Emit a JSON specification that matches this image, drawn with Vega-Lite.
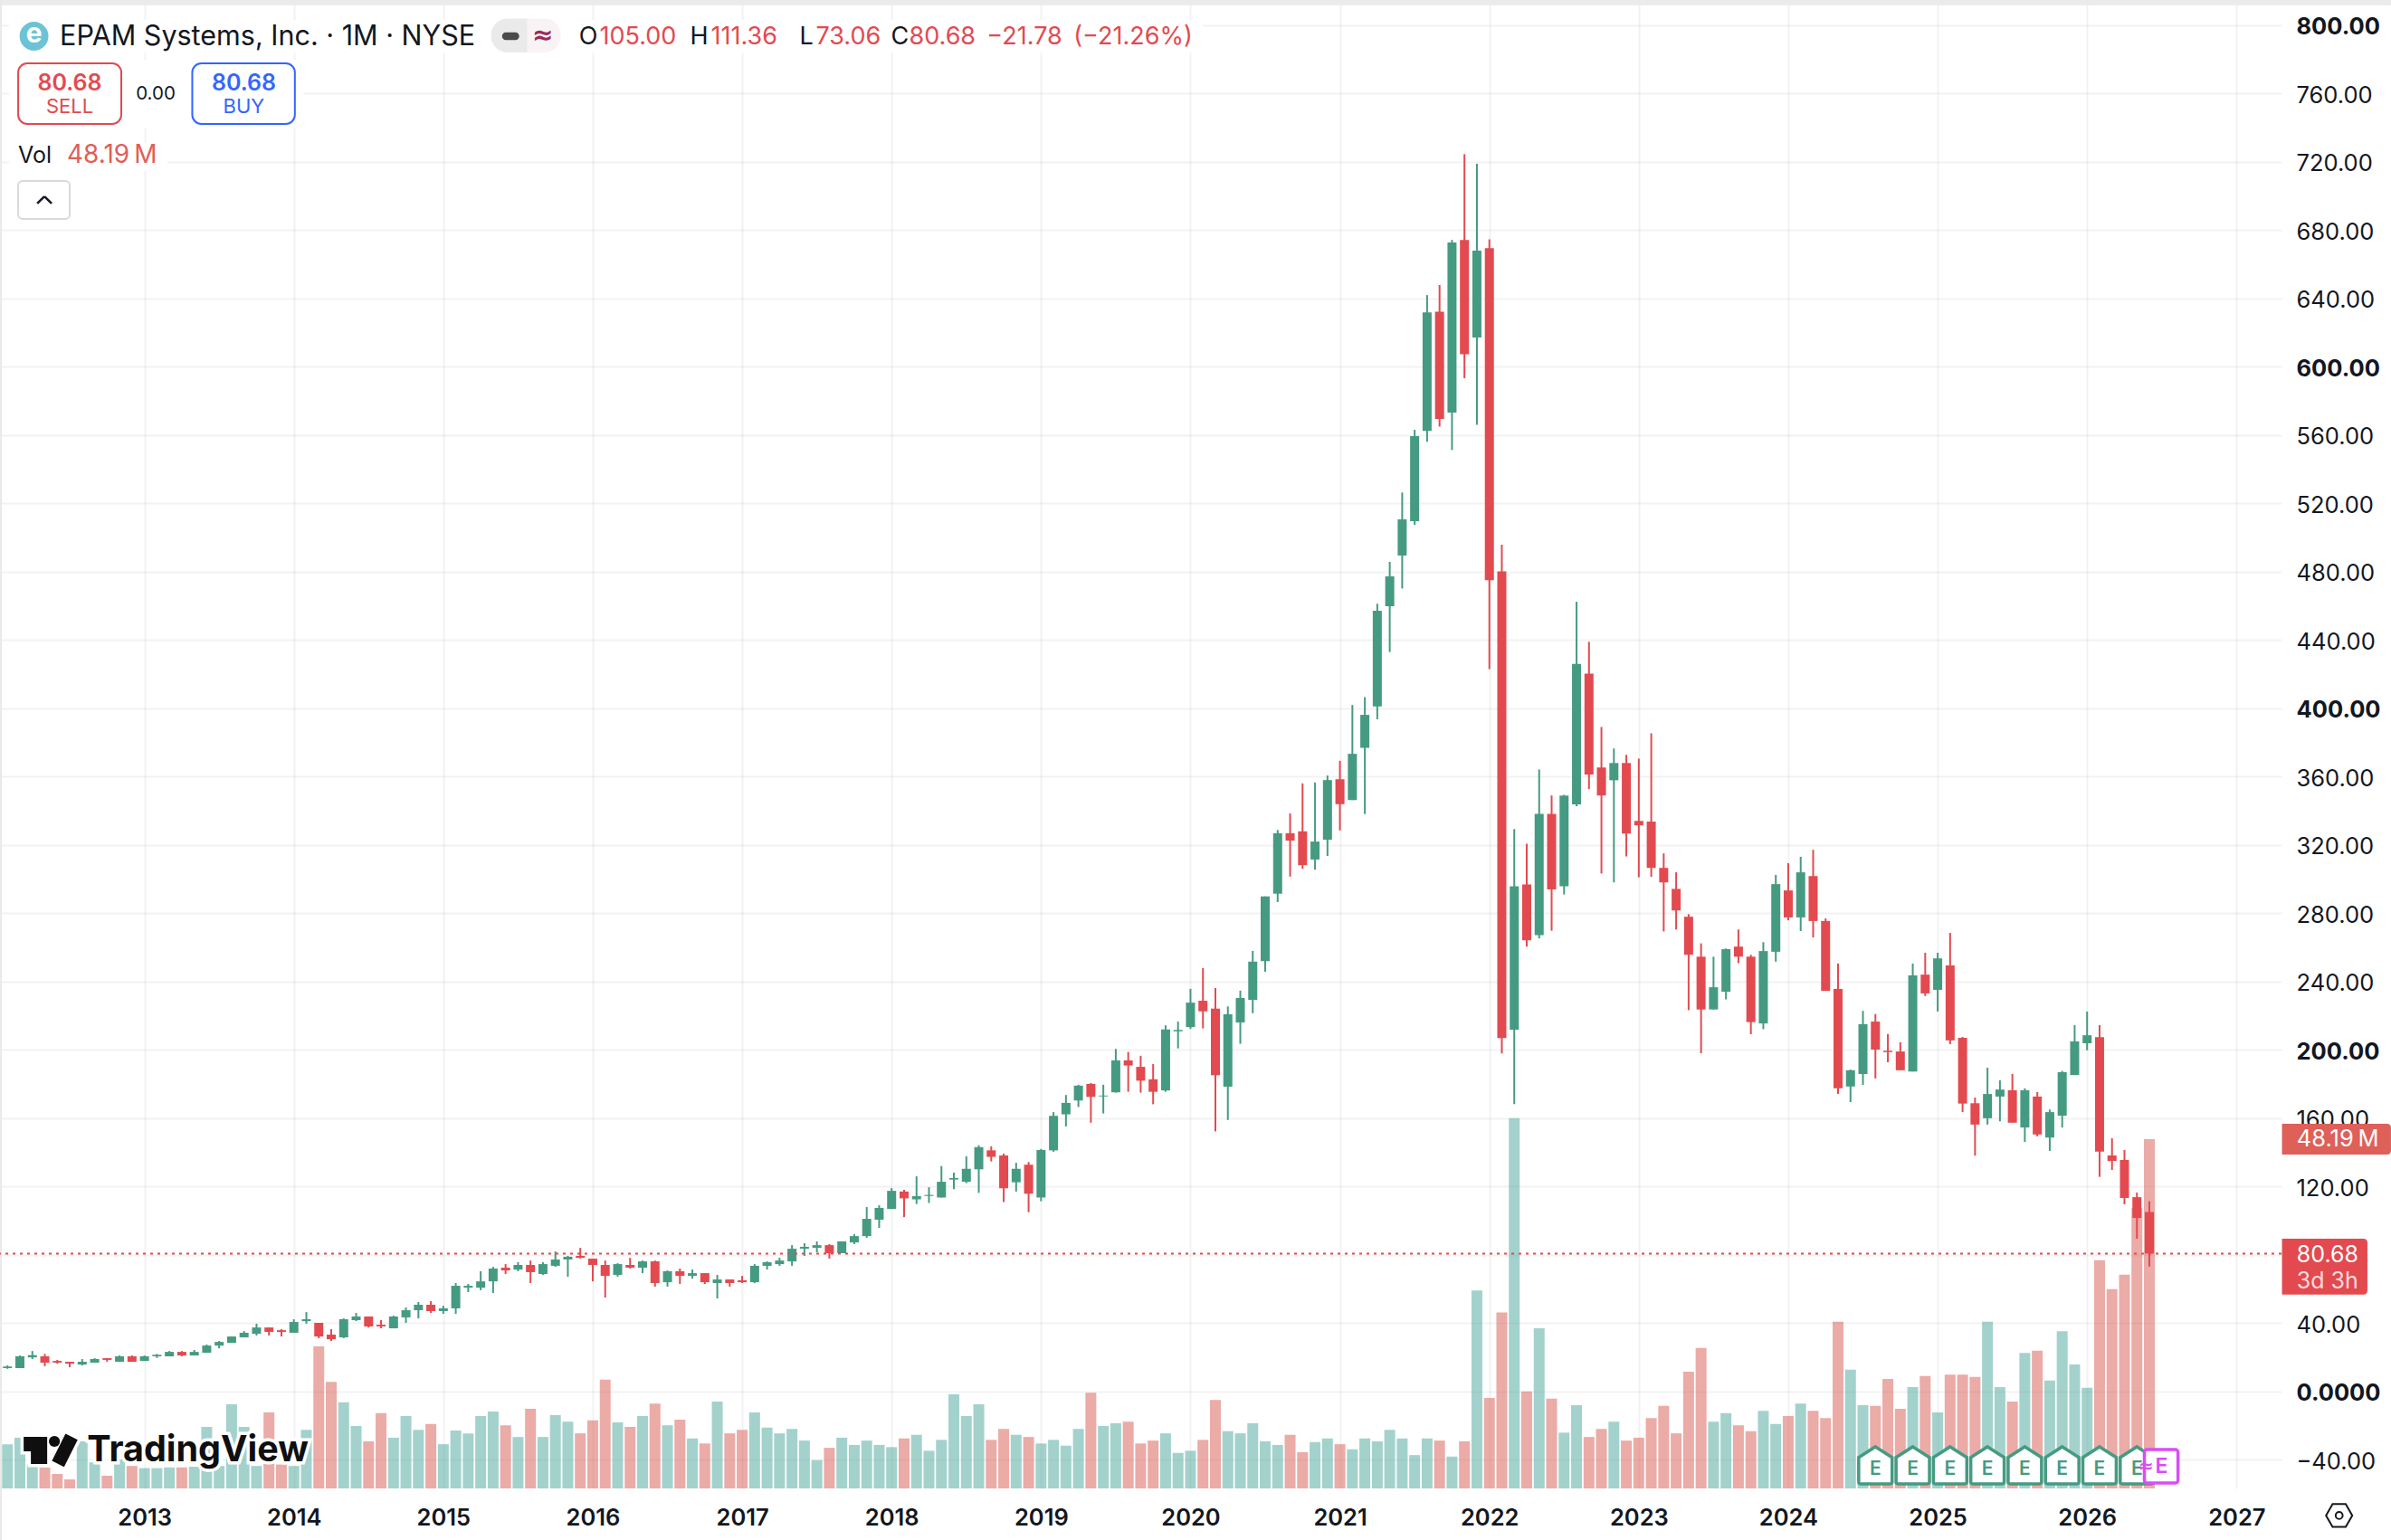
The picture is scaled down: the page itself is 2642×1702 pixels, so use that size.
{
"$schema":"https://vega.github.io/schema/vega-lite/v6.json",
"width":2521,"height":1645,
"autosize":{"type":"none"},
"padding":{"left":0,"top":0,"right":121,"bottom":57},
"background":"#ffffff",
"config":{"view":{"stroke":null},"axis":{"title":null}},
"datasets":{
"bars":[
{"n":1,"o":13.6,"h":15.2,"l":13.2,"c":14.6,"v":6.1},
{"n":2,"o":13.6,"h":21,"l":13.6,"c":20.5,"v":7},
{"n":3,"o":19.9,"h":23.6,"l":18.9,"c":21.2,"v":3.3},
{"n":4,"o":20.5,"h":21.9,"l":14.7,"c":16.8,"v":2.9},
{"n":5,"o":17.8,"h":18.4,"l":16.2,"c":16.8,"v":2},
{"n":6,"o":17.3,"h":17.3,"l":14.1,"c":16.2,"v":1.25},
{"n":7,"o":15.7,"h":18.9,"l":15.2,"c":17.3,"v":6.5},
{"n":8,"o":16.8,"h":19.4,"l":16.8,"c":18.9,"v":3.6},
{"n":9,"o":19.4,"h":19.4,"l":17.3,"c":18.4,"v":1.75},
{"n":10,"o":17.3,"h":21,"l":17.3,"c":20.5,"v":4},
{"n":11,"o":20.5,"h":21,"l":17.3,"c":17.3,"v":3.1},
{"n":12,"o":17.8,"h":21,"l":17.8,"c":20.5,"v":2.8},
{"n":13,"o":20.5,"h":21.9,"l":19.6,"c":21.4,"v":2.8},
{"n":14,"o":20.5,"h":23.6,"l":20.5,"c":23.1,"v":2.9},
{"n":15,"o":23.1,"h":23.6,"l":20.5,"c":21,"v":2.9},
{"n":16,"o":21,"h":24.2,"l":21,"c":23.1,"v":3},
{"n":17,"o":22.6,"h":27.4,"l":22.6,"c":26.8,"v":8.5},
{"n":18,"o":26.8,"h":29.5,"l":25.2,"c":28.9,"v":3.1},
{"n":19,"o":28.4,"h":32.1,"l":28.4,"c":32.1,"v":11.6},
{"n":20,"o":31.6,"h":35.3,"l":31.6,"c":34.3,"v":8.5},
{"n":21,"o":33.7,"h":39.6,"l":32.7,"c":37.4,"v":3.1},
{"n":22,"o":37.4,"h":37.4,"l":32.7,"c":34.8,"v":10.5},
{"n":23,"o":35.8,"h":36.4,"l":32.1,"c":34.8,"v":3.3},
{"n":24,"o":34.3,"h":42.2,"l":34.3,"c":40.6,"v":3.1},
{"n":25,"o":41.1,"h":46.4,"l":39.6,"c":42.2,"v":8.1},
{"n":26,"o":40.1,"h":40.1,"l":31.1,"c":32.1,"v":19.6},
{"n":27,"o":33.2,"h":36.4,"l":29.5,"c":30.5,"v":14.7},
{"n":28,"o":31.6,"h":42.7,"l":31.1,"c":42.2,"v":11.9},
{"n":29,"o":41.7,"h":45.9,"l":41.1,"c":43.8,"v":8.6},
{"n":30,"o":43.8,"h":43.8,"l":37.4,"c":38,"v":6.5},
{"n":31,"o":39,"h":41.7,"l":36.9,"c":38,"v":10.4},
{"n":32,"o":36.9,"h":44.3,"l":36.9,"c":43.8,"v":7},
{"n":33,"o":43.3,"h":49.1,"l":40.1,"c":47.5,"v":10},
{"n":34,"o":47.5,"h":52.3,"l":42.7,"c":50.7,"v":8.1},
{"n":35,"o":50.7,"h":52.8,"l":45.9,"c":47,"v":8.9},
{"n":36,"o":47,"h":50.1,"l":45.4,"c":48.6,"v":6.1},
{"n":37,"o":48.6,"h":63.4,"l":45.4,"c":61.8,"v":8},
{"n":38,"o":60.7,"h":62.9,"l":58.1,"c":61.8,"v":7.6},
{"n":39,"o":60.7,"h":70.3,"l":59.2,"c":64.4,"v":10},
{"n":40,"o":64.4,"h":72.9,"l":57.6,"c":71.9,"v":10.6},
{"n":41,"o":72.4,"h":74.5,"l":68.7,"c":70.8,"v":8.7},
{"n":42,"o":71.3,"h":75.6,"l":70.3,"c":74,"v":7.1},
{"n":43,"o":74,"h":76.6,"l":63.4,"c":69.8,"v":11},
{"n":44,"o":68.7,"h":75.6,"l":68.2,"c":74.5,"v":7.1},
{"n":45,"o":73.5,"h":81.9,"l":72.9,"c":77.2,"v":10.1},
{"n":46,"o":77.2,"h":79.3,"l":67.1,"c":78.8,"v":9.2},
{"n":47,"o":79.3,"h":84,"l":77.7,"c":78.2,"v":7.6},
{"n":48,"o":77.7,"h":77.7,"l":64.4,"c":74,"v":9.4},
{"n":49,"o":74,"h":76.6,"l":54.9,"c":67.6,"v":15},
{"n":50,"o":68.2,"h":75,"l":67.1,"c":74.5,"v":9.1},
{"n":51,"o":74,"h":78.2,"l":71.9,"c":72.4,"v":8.5},
{"n":52,"o":72.4,"h":76.6,"l":69.2,"c":76.1,"v":10},
{"n":53,"o":76.1,"h":76.6,"l":61.3,"c":63.4,"v":11.7},
{"n":54,"o":63.9,"h":70.8,"l":61.3,"c":70.3,"v":8.7},
{"n":55,"o":70.3,"h":71.9,"l":62.9,"c":67.6,"v":9.5},
{"n":56,"o":67.6,"h":71.3,"l":66,"c":69.2,"v":6.9},
{"n":57,"o":69.2,"h":69.2,"l":62.9,"c":63.9,"v":6.2},
{"n":58,"o":63.4,"h":68.2,"l":54.4,"c":65.5,"v":12},
{"n":59,"o":65.5,"h":65.5,"l":61.3,"c":63.4,"v":7.6},
{"n":60,"o":65,"h":67.6,"l":63.4,"c":63.9,"v":8.1},
{"n":61,"o":63.9,"h":74.5,"l":63.4,"c":73.5,"v":10.5},
{"n":62,"o":73.5,"h":76.1,"l":71.3,"c":75.6,"v":8.4},
{"n":63,"o":74.5,"h":78.2,"l":73.5,"c":76.6,"v":7.6},
{"n":64,"o":76.1,"h":85.6,"l":73.5,"c":83.5,"v":8.2},
{"n":65,"o":83.5,"h":86.7,"l":79.3,"c":84.6,"v":6.6},
{"n":66,"o":84,"h":87.8,"l":81.4,"c":85.6,"v":3.9},
{"n":67,"o":85.6,"h":86.2,"l":77.7,"c":80.9,"v":5.6},
{"n":68,"o":80.9,"h":87.8,"l":80.9,"c":87.8,"v":7},
{"n":69,"o":87.2,"h":92,"l":86.2,"c":90.9,"v":6},
{"n":70,"o":90.9,"h":107.9,"l":89.9,"c":101,"v":6.6},
{"n":71,"o":100.5,"h":109,"l":95.7,"c":107.4,"v":6},
{"n":72,"o":106.8,"h":119,"l":106.8,"c":117.4,"v":5.7},
{"n":73,"o":117,"h":118,"l":102,"c":113,"v":6.9},
{"n":74,"o":112.4,"h":125.9,"l":109.7,"c":114.3,"v":7.4},
{"n":75,"o":114.4,"h":119.5,"l":110.3,"c":115,"v":5.2},
{"n":76,"o":113.5,"h":131.9,"l":113.5,"c":122.7,"v":6.7},
{"n":77,"o":124,"h":128.1,"l":118.4,"c":124.9,"v":13},
{"n":78,"o":122.7,"h":137.6,"l":121.9,"c":130.3,"v":10},
{"n":79,"o":130,"h":144.1,"l":116.2,"c":143,"v":11.6},
{"n":80,"o":141.1,"h":143.5,"l":134.6,"c":137.3,"v":6.7},
{"n":81,"o":138.1,"h":139.2,"l":110.8,"c":118.9,"v":8.2},
{"n":82,"o":122.4,"h":133.8,"l":117,"c":130.3,"v":7.4},
{"n":83,"o":132.7,"h":134.3,"l":104.9,"c":115.7,"v":7.1},
{"n":84,"o":113.5,"h":141.9,"l":111.3,"c":141.3,"v":6.2},
{"n":85,"o":141.1,"h":163.5,"l":140.3,"c":161.3,"v":6.7},
{"n":86,"o":162.2,"h":173.5,"l":155.1,"c":168.9,"v":5.9},
{"n":87,"o":170.3,"h":179.5,"l":166.5,"c":179,"v":8.2},
{"n":88,"o":180,"h":180.5,"l":157.3,"c":172.4,"v":13.2},
{"n":89,"o":172.7,"h":179.5,"l":162.7,"c":173.2,"v":8.6},
{"n":90,"o":175.1,"h":200.5,"l":174.9,"c":193.8,"v":9},
{"n":91,"o":193.8,"h":198.7,"l":175.4,"c":190.8,"v":9.2},
{"n":92,"o":190,"h":196.5,"l":174.9,"c":181.9,"v":6.2},
{"n":93,"o":182.7,"h":191.6,"l":168.1,"c":175.4,"v":6.6},
{"n":94,"o":176.2,"h":214.3,"l":175.4,"c":211.9,"v":7.6},
{"n":95,"o":210.8,"h":216.5,"l":200.8,"c":211.6,"v":4.9},
{"n":96,"o":213.3,"h":235.7,"l":212.2,"c":227.6,"v":5.2},
{"n":97,"o":228.7,"h":247.8,"l":212.5,"c":222.5,"v":6.7},
{"n":98,"o":224.1,"h":236.2,"l":152.2,"c":185.1,"v":12.2},
{"n":99,"o":178.4,"h":225.4,"l":158.9,"c":220.8,"v":7.9},
{"n":100,"o":216,"h":234.6,"l":203.5,"c":230.3,"v":7.6},
{"n":101,"o":229.2,"h":257.9,"l":221.4,"c":251.6,"v":9},
{"n":102,"o":251.9,"h":289.8,"l":245.7,"c":289.8,"v":6.5},
{"n":103,"o":291.4,"h":328.7,"l":286.5,"c":326.8,"v":6},
{"n":104,"o":326.8,"h":338.4,"l":301.4,"c":322.5,"v":7.4},
{"n":105,"o":327.9,"h":356,"l":306,"c":308.1,"v":5},
{"n":106,"o":311.4,"h":356.5,"l":305.4,"c":321.9,"v":6.4},
{"n":107,"o":323,"h":360.6,"l":313.5,"c":357.9,"v":6.9},
{"n":108,"o":358.4,"h":369.2,"l":328.4,"c":343.8,"v":6.1},
{"n":109,"o":346.2,"h":401.9,"l":346.2,"c":373.3,"v":5.4},
{"n":110,"o":376.8,"h":406.5,"l":338,"c":396.1,"v":6.9},
{"n":111,"o":401,"h":461.2,"l":393.5,"c":457.1,"v":6.5},
{"n":112,"o":459.7,"h":485.7,"l":432.9,"c":477.2,"v":8.1},
{"n":113,"o":489.4,"h":526.3,"l":470.1,"c":510.6,"v":6.9},
{"n":114,"o":509.5,"h":563,"l":507.3,"c":559.3,"v":4.6},
{"n":115,"o":562.3,"h":641.9,"l":556,"c":631.8,"v":6.9},
{"n":116,"o":632.2,"h":647.8,"l":564.9,"c":569.4,"v":6.6},
{"n":117,"o":573.1,"h":674.2,"l":551.2,"c":672.7,"v":4.4},
{"n":118,"o":674.2,"h":724.4,"l":593.2,"c":607.3,"v":6.5},
{"n":119,"o":617,"h":718.8,"l":566,"c":667.9,"v":27.3},
{"n":120,"o":669.4,"h":674.6,"l":422.9,"c":475,"v":12.5},
{"n":121,"o":480.1,"h":495.8,"l":197.9,"c":206.9,"v":24.3},
{"n":122,"o":211.7,"h":329.2,"l":168.2,"c":295.7,"v":51.1},
{"n":123,"o":296.8,"h":320.6,"l":260.4,"c":264.1,"v":13.4},
{"n":124,"o":267.1,"h":364.1,"l":265.2,"c":338.1,"v":22.1},
{"n":125,"o":338.1,"h":348.9,"l":269.7,"c":293.9,"v":12.4},
{"n":126,"o":295.7,"h":349.3,"l":290.9,"c":348.9,"v":7.7},
{"n":127,"o":343.7,"h":462.3,"l":342.6,"c":425.9,"v":11.5},
{"n":128,"o":420.3,"h":438.9,"l":352.6,"c":361.2,"v":7.1},
{"n":129,"o":365.3,"h":389,"l":303.2,"c":348.9,"v":8.2},
{"n":130,"o":357.8,"h":376.4,"l":298,"c":367.9,"v":9.2},
{"n":131,"o":367.9,"h":372.7,"l":313.2,"c":326.6,"v":6.6},
{"n":132,"o":334,"h":370.5,"l":301,"c":331.4,"v":7},
{"n":133,"o":333.6,"h":385.3,"l":301.3,"c":306.5,"v":9.7},
{"n":134,"o":306.5,"h":315,"l":269.3,"c":298,"v":11.4},
{"n":135,"o":294.2,"h":303.9,"l":270.4,"c":281.6,"v":7.6},
{"n":136,"o":277.9,"h":279.4,"l":223.2,"c":255.6,"v":16.1},
{"n":137,"o":254.5,"h":262.3,"l":198,"c":223.6,"v":19.4},
{"n":138,"o":223.6,"h":254.5,"l":223.6,"c":236.6,"v":9.2},
{"n":139,"o":234,"h":259.3,"l":229.5,"c":258.9,"v":10.4},
{"n":140,"o":260.4,"h":270.4,"l":250.7,"c":254.5,"v":8.7},
{"n":141,"o":254.5,"h":255.6,"l":209.1,"c":216.2,"v":7.9},
{"n":142,"o":215.4,"h":263,"l":212.1,"c":257.8,"v":10.7},
{"n":143,"o":257.4,"h":302.4,"l":251.6,"c":297,"v":8.9},
{"n":144,"o":293.3,"h":309.3,"l":275.8,"c":277.5,"v":10},
{"n":145,"o":277.5,"h":313,"l":269.5,"c":303.9,"v":11.7},
{"n":146,"o":301.7,"h":317.1,"l":265.8,"c":275.4,"v":10.7},
{"n":147,"o":275.4,"h":276.9,"l":234.5,"c":234.5,"v":9.7},
{"n":148,"o":235.6,"h":250.5,"l":174.1,"c":177.4,"v":23},
{"n":149,"o":178.5,"h":188.4,"l":169.4,"c":188,"v":16.4},
{"n":150,"o":185.8,"h":222.8,"l":179.4,"c":215,"v":11.5},
{"n":151,"o":216.5,"h":220.9,"l":183.2,"c":200.1,"v":11.4},
{"n":152,"o":199.4,"h":209.2,"l":192.7,"c":198.6,"v":15.1},
{"n":153,"o":199,"h":204.4,"l":188,"c":188,"v":11},
{"n":154,"o":187.3,"h":250.5,"l":187.3,"c":243.6,"v":14},
{"n":155,"o":244,"h":256.8,"l":231.5,"c":233,"v":15.5},
{"n":156,"o":235.1,"h":256.8,"l":222.4,"c":253.5,"v":10.5},
{"n":157,"o":249.4,"h":268.4,"l":203.3,"c":205.5,"v":15.7},
{"n":158,"o":207,"h":207.5,"l":163.5,"c":168.5,"v":15.7},
{"n":159,"o":168.7,"h":172,"l":138,"c":156.2,"v":15.4},
{"n":160,"o":159.9,"h":189.5,"l":156.2,"c":174.1,"v":23},
{"n":161,"o":172.6,"h":182.1,"l":158.1,"c":176.7,"v":14},
{"n":162,"o":176.3,"h":185.8,"l":157.3,"c":157.3,"v":12},
{"n":163,"o":154.5,"h":177.4,"l":146,"c":176.3,"v":18.7},
{"n":164,"o":172.6,"h":175.2,"l":149.3,"c":150.4,"v":19},
{"n":165,"o":148.6,"h":165,"l":140.8,"c":163.5,"v":14.9},
{"n":166,"o":161.4,"h":187.6,"l":154.5,"c":186.9,"v":21.7},
{"n":167,"o":185.2,"h":214.4,"l":185.2,"c":204.9,"v":17.1},
{"n":168,"o":203.8,"h":222.4,"l":199.7,"c":208.5,"v":13.9},
{"n":169,"o":207.4,"h":214.4,"l":125.6,"c":140.4,"v":31.5},
{"n":170,"o":138.1,"h":148.2,"l":129.6,"c":134.9,"v":27.5},
{"n":171,"o":135.5,"h":141.3,"l":109.5,"c":113.2,"v":29.5},
{"n":172,"o":113.7,"h":116.4,"l":89.4,"c":101.5,"v":38.7},
{"n":173,"o":105,"h":111.36,"l":73.06,"c":80.68,"v":48.19}
],
"earnings":[{"n":151},{"n":154},{"n":157},{"n":160},{"n":163},{"n":166},{"n":169},{"n":172}]
},
"resolve":{"scale":{"y":"independent"},"axis":{"x":"independent","y":"independent"}},
"layer":[
{"data":{"name":"bars"},
 "mark":{"type":"bar","size":12,"opacity":0.5,"orient":"vertical"},
 "encoding":{
  "x":{"field":"n","type":"quantitative","scale":{"domain":[0.401,183.61],"nice":false,"zero":false,"padding":0},"axis":{"values":[12,24,36,48,60,72,84,96,108,120,132,144,156,168,180],"labelExpr":"2012+datum.value/12","title":null,"domain":false,"ticks":false,"grid":true,"gridColor":"#000000","gridOpacity":0.05,"gridWidth":2,"labelFont":"Inter","labelFontSize":25.5,"labelFontWeight":600,"labelColor":"#131722","labelPadding":20,"labelOverlap":false,"labelFlush":false}},
  "y":{"field":"v","type":"quantitative","stack":null,"scale":{"domain":[0,205.4],"nice":false},"axis":null},
  "color":{"condition":{"test":"datum.c>=datum.o","value":"#47A59B"},"value":"#D7574F"}
 }},
{"resolve":{"axis":{"x":"independent","y":"independent"}},"layer":[
 {"data":{"name":"bars"},"resolve":{"axis":{"x":"independent","y":"independent"}},"layer":[
  {"mark":{"type":"rule","strokeWidth":2},
   "encoding":{
    "x":{"field":"n","type":"quantitative","axis":null},
    "y":{"field":"l","type":"quantitative","scale":{"domain":[-56.85,814.68],"nice":false,"zero":false,"padding":0},
     "axis":{"orient":"right","values":[-40,0,40,80,120,160,200,240,280,320,360,400,440,480,520,560,600,640,680,720,760,800],"labelExpr":"datum.value==0?'0.0000':datum.value<0?'\u221240.00':format(datum.value,'.2f')","title":null,"domain":false,"ticks":false,"grid":true,"gridColor":"#000000","gridOpacity":0.05,"gridWidth":2,"labelFont":"Inter","labelFontSize":25.5,"labelColor":"#131722","labelPadding":16,"labelOffset":2,"labelOverlap":false,"labelFlush":false,"labelFontWeight":{"condition":{"test":"datum.value%200==0","value":700},"value":400}}},
    "y2":{"field":"h"},
    "color":{"condition":{"test":"datum.c>=datum.o","value":"#459B82"},"value":"#E24A50"}
   }},
  {"mark":{"type":"bar","size":10,"orient":"vertical"},
   "encoding":{
    "x":{"field":"n","type":"quantitative","axis":null},
    "y":{"field":"o","type":"quantitative","stack":null,"axis":null},
    "y2":{"field":"c"},
    "color":{"condition":{"test":"datum.c>=datum.o","value":"#459B82"},"value":"#E24A50"}
   }}
 ]},
 {"data":{"name":"earnings"},"mark":{"type":"point","filled":false,"fill":"#ffffff","fillOpacity":1,"opacity":1,"stroke":"#459B82","strokeWidth":3.5,"size":1681,"shape":"M0,-1 L0.9,-0.42 L0.9,0.9 Q0.9,1 0.8,1 L-0.8,1 Q-0.9,1 -0.9,0.9 L-0.9,-0.42 Z"},
  "encoding":{"x":{"field":"n","type":"quantitative","axis":null},"y":{"datum":-43.3,"axis":null}}},
 {"data":{"name":"earnings"},"mark":{"type":"text","text":"E","font":"Inter","fontSize":21,"fontWeight":600,"color":"#459B82","align":"center","baseline":"middle"},
  "encoding":{"x":{"field":"n","type":"quantitative","axis":null},"y":{"datum":-45.7,"axis":null}}},
 {"data":{"values":[{}]},"resolve":{"axis":{"x":"independent","y":"independent"}},"layer":[
  {"mark":{"type":"rect","fill":"#ebebeb"},"encoding":{"x":{"datum":0.401,"axis":null},"x2":{"datum":192.4},"y":{"datum":811.66,"axis":null},"y2":{"datum":814.68}}},
  {"mark":{"type":"rule","stroke":"#e8e8e8","strokeWidth":2},"encoding":{"x":{"datum":0.48,"axis":null},"y":{"datum":814.68,"axis":null},"y2":{"datum":-87}}},
  {"mark":{"type":"rule","stroke":"#E24A50","strokeWidth":2,"strokeDash":[3,5]},"encoding":{"y":{"datum":80.68,"axis":null}}},
  {"mark":{"type":"rect","fill":"#ffffff"},"encoding":{"x":{"datum":1.14,"axis":null},"x2":{"datum":97},"y":{"datum":783.95,"axis":null},"y2":{"datum":803}}},
  {"mark":{"type":"rect","fill":"#ffffff"},"encoding":{"x":{"datum":1.14,"axis":null},"x2":{"datum":24.74},"y":{"datum":739.5,"axis":null},"y2":{"datum":779.7}}},
  {"mark":{"type":"rect","fill":"#ffffff"},"encoding":{"x":{"datum":1.14,"axis":null},"x2":{"datum":13.85},"y":{"datum":715,"axis":null},"y2":{"datum":731}}},
  {"mark":{"type":"point","filled":true,"fill":"#6CC3D5","opacity":1,"shape":"circle","size":1018},"encoding":{"x":{"datum":3.133,"axis":null},"y":{"datum":793.5,"axis":null}}},
  {"mark":{"type":"text","text":"e","font":"Inter","fontSize":30,"fontWeight":700,"color":"#ffffff","align":"center","baseline":"middle"},"encoding":{"x":{"datum":3.133,"axis":null},"y":{"datum":794.5,"axis":null}}},
  {"mark":{"type":"text","text":"EPAM Systems, Inc. \u00b7 1M \u00b7 NYSE","font":"Inter","fontSize":30.5,"color":"#131722","align":"left","baseline":"middle"},"encoding":{"x":{"datum":5.203,"axis":null},"y":{"datum":793.2,"axis":null}}},
  {"mark":{"type":"rect","fill":"#eaeaea","cornerRadiusTopLeft":18,"cornerRadiusBottomLeft":18},"encoding":{"x":{"datum":39.84,"axis":null},"x2":{"datum":42.75},"y":{"datum":784,"axis":null},"y2":{"datum":803.8}}},
  {"mark":{"type":"rect","fill":"#f9f3f6","cornerRadiusTopRight":18,"cornerRadiusBottomRight":18},"encoding":{"x":{"datum":42.75,"axis":null},"x2":{"datum":45.43},"y":{"datum":784,"axis":null},"y2":{"datum":803.8}}},
  {"mark":{"type":"rect","fill":"#4a4a4a","cornerRadius":4},"encoding":{"x":{"datum":40.72,"axis":null},"x2":{"datum":42.09},"y":{"datum":791.3,"axis":null},"y2":{"datum":795.7}}},
  {"mark":{"type":"text","text":"\u2248","font":"DejaVu Sans","fontSize":28,"fontWeight":700,"color":"#A0285A","align":"center","baseline":"middle"},"encoding":{"x":{"datum":43.98,"axis":null},"y":{"datum":793.5,"axis":null}}},
  {"mark":{"type":"text","text":"O","font":"Inter","fontSize":27,"color":"#131722","align":"left","baseline":"middle"},"encoding":{"x":{"datum":46.89,"axis":null},"y":{"datum":793.2,"axis":null}}},
  {"mark":{"type":"text","text":"105.00","font":"Inter","fontSize":27,"color":"#E24A50","align":"left","baseline":"middle"},"encoding":{"x":{"datum":48.55,"axis":null},"y":{"datum":793.2,"axis":null}}},
  {"mark":{"type":"text","text":"H","font":"Inter","fontSize":27,"color":"#131722","align":"left","baseline":"middle"},"encoding":{"x":{"datum":55.82,"axis":null},"y":{"datum":793.2,"axis":null}}},
  {"mark":{"type":"text","text":"111.36","font":"Inter","fontSize":27,"color":"#E24A50","align":"left","baseline":"middle"},"encoding":{"x":{"datum":57.49,"axis":null},"y":{"datum":793.2,"axis":null}}},
  {"mark":{"type":"text","text":"L","font":"Inter","fontSize":27,"color":"#131722","align":"left","baseline":"middle"},"encoding":{"x":{"datum":64.61,"axis":null},"y":{"datum":793.2,"axis":null}}},
  {"mark":{"type":"text","text":"73.06","font":"Inter","fontSize":27,"color":"#E24A50","align":"left","baseline":"middle"},"encoding":{"x":{"datum":65.91,"axis":null},"y":{"datum":793.2,"axis":null}}},
  {"mark":{"type":"text","text":"C","font":"Inter","fontSize":27,"color":"#131722","align":"left","baseline":"middle"},"encoding":{"x":{"datum":71.94,"axis":null},"y":{"datum":793.2,"axis":null}}},
  {"mark":{"type":"text","text":"80.68","font":"Inter","fontSize":27,"color":"#E24A50","align":"left","baseline":"middle"},"encoding":{"x":{"datum":73.4,"axis":null},"y":{"datum":793.2,"axis":null}}},
  {"mark":{"type":"text","text":"\u221221.78","font":"Inter","fontSize":27,"color":"#E24A50","align":"left","baseline":"middle"},"encoding":{"x":{"datum":79.64,"axis":null},"y":{"datum":793.2,"axis":null}}},
  {"mark":{"type":"text","text":"(\u221221.26%)","font":"Inter","fontSize":27,"color":"#E24A50","align":"left","baseline":"middle"},"encoding":{"x":{"datum":86.61,"axis":null},"y":{"datum":793.2,"axis":null}}},
  {"mark":{"type":"rect","fill":"#ffffff","stroke":"#E24A50","strokeWidth":2,"cornerRadius":10},"encoding":{"x":{"datum":1.862,"axis":null},"x2":{"datum":10.14},"y":{"datum":742.1,"axis":null},"y2":{"datum":777.6}}},
  {"mark":{"type":"text","text":"80.68","font":"Inter","fontSize":25,"fontWeight":600,"color":"#E24A50","align":"center","baseline":"middle"},"encoding":{"x":{"datum":6,"axis":null},"y":{"datum":765.9,"axis":null}}},
  {"mark":{"type":"text","text":"SELL","font":"Inter","fontSize":22,"color":"#E24A50","align":"center","baseline":"middle"},"encoding":{"x":{"datum":6,"axis":null},"y":{"datum":752.2,"axis":null}}},
  {"mark":{"type":"text","text":"0.00","font":"Inter","fontSize":20.5,"color":"#131722","align":"center","baseline":"middle"},"encoding":{"x":{"datum":12.9,"axis":null},"y":{"datum":759.6,"axis":null}}},
  {"mark":{"type":"rect","fill":"#ffffff","stroke":"#3366FF","strokeWidth":2,"cornerRadius":10},"encoding":{"x":{"datum":15.84,"axis":null},"x2":{"datum":24.08},"y":{"datum":742.1,"axis":null},"y2":{"datum":777.6}}},
  {"mark":{"type":"text","text":"80.68","font":"Inter","fontSize":25,"fontWeight":600,"color":"#3366FF","align":"center","baseline":"middle"},"encoding":{"x":{"datum":19.98,"axis":null},"y":{"datum":765.9,"axis":null}}},
  {"mark":{"type":"text","text":"BUY","font":"Inter","fontSize":22,"color":"#3366FF","align":"center","baseline":"middle"},"encoding":{"x":{"datum":19.98,"axis":null},"y":{"datum":752.2,"axis":null}}},
  {"mark":{"type":"text","text":"Vol","font":"Inter","fontSize":25,"color":"#131722","align":"left","baseline":"middle"},"encoding":{"x":{"datum":1.862,"axis":null},"y":{"datum":723.6,"axis":null}}},
  {"mark":{"type":"text","text":"48.19\u2009M","font":"Inter","fontSize":28,"color":"#DF5F59","align":"left","baseline":"middle"},"encoding":{"x":{"datum":5.78,"axis":null},"y":{"datum":723.6,"axis":null}}},
  {"mark":{"type":"rect","fill":"#ffffff","stroke":"#d9d9d9","strokeWidth":2,"cornerRadius":5},"encoding":{"x":{"datum":1.862,"axis":null},"x2":{"datum":6},"y":{"datum":686.5,"axis":null},"y2":{"datum":708.7}}},
  {"mark":{"type":"rule","stroke":"#131722","strokeWidth":2.5},"encoding":{"x":{"datum":3.39,"axis":null},"x2":{"datum":3.97},"y":{"datum":695.5,"axis":null},"y2":{"datum":699.7}}},
  {"mark":{"type":"rule","stroke":"#131722","strokeWidth":2.5},"encoding":{"x":{"datum":4.55,"axis":null},"x2":{"datum":3.97},"y":{"datum":695.5,"axis":null},"y2":{"datum":699.7}}},
  {"mark":{"type":"rect","fill":"#ffffff","stroke":"#ffffff","strokeWidth":7},"encoding":{"x":{"datum":2.3,"axis":null},"x2":{"datum":4.19},"y":{"datum":-35.1,"axis":null},"y2":{"datum":-26.6}}},
  {"mark":{"type":"rect","fill":"#ffffff","stroke":"#ffffff","strokeWidth":7},"encoding":{"x":{"datum":2.88,"axis":null},"x2":{"datum":4.19},"y":{"datum":-42.5,"axis":null},"y2":{"datum":-35.1}}},
  {"mark":{"type":"rule","stroke":"#ffffff","strokeWidth":22},"encoding":{"x":{"datum":6.15,"axis":null},"x2":{"datum":5.06},"y":{"datum":-26.6,"axis":null},"y2":{"datum":-42.5}}},
  {"mark":{"type":"rect","fill":"#0f0f0f"},"encoding":{"x":{"datum":2.3,"axis":null},"x2":{"datum":4.19},"y":{"datum":-35.1,"axis":null},"y2":{"datum":-26.6}}},
  {"mark":{"type":"rect","fill":"#0f0f0f"},"encoding":{"x":{"datum":2.88,"axis":null},"x2":{"datum":4.19},"y":{"datum":-42.5,"axis":null},"y2":{"datum":-35.1}}},
  {"mark":{"type":"point","filled":true,"fill":"#0f0f0f","opacity":1,"shape":"circle","size":150},"encoding":{"x":{"datum":4.77,"axis":null},"y":{"datum":-29.3,"axis":null}}},
  {"mark":{"type":"rule","stroke":"#0f0f0f","strokeWidth":15},"encoding":{"x":{"datum":6.15,"axis":null},"x2":{"datum":5.06},"y":{"datum":-26.6,"axis":null},"y2":{"datum":-42.5}}},
  {"mark":{"type":"text","text":"TradingView","font":"Inter","fontSize":39.5,"fontWeight":700,"color":"#ffffff","stroke":"#ffffff","strokeWidth":7,"align":"left","baseline":"middle"},"encoding":{"x":{"datum":7.4,"axis":null},"y":{"datum":-34.6,"axis":null}}},
  {"mark":{"type":"text","text":"TradingView","font":"Inter","fontSize":39.5,"fontWeight":700,"color":"#0f0f0f","align":"left","baseline":"middle"},"encoding":{"x":{"datum":7.4,"axis":null},"y":{"datum":-34.6,"axis":null}}},
  {"mark":{"type":"rect","fill":"#ffffff","stroke":"#D94DF5","strokeWidth":3.5,"cornerRadius":3},"encoding":{"x":{"datum":172.6,"axis":null},"x2":{"datum":175.3},"y":{"datum":-53.7,"axis":null},"y2":{"datum":-34.1}}},
  {"mark":{"type":"text","text":"\u2248","font":"DejaVu Sans","fontSize":20,"fontWeight":700,"color":"#D94DF5","align":"center","baseline":"middle"},"encoding":{"x":{"datum":172.74,"axis":null},"y":{"datum":-44.1,"axis":null}}},
  {"mark":{"type":"text","text":"E","font":"Inter","fontSize":23,"fontWeight":600,"color":"#D94DF5","align":"center","baseline":"middle"},"encoding":{"x":{"datum":173.97,"axis":null},"y":{"datum":-44.1,"axis":null}}},
  {"mark":{"type":"rect","fill":"#E24A50","cornerRadiusTopRight":4,"cornerRadiusBottomRight":4},"encoding":{"x":{"datum":183.65,"axis":null},"x2":{"datum":190.51},"y":{"datum":56.68,"axis":null},"y2":{"datum":89.4}}},
  {"mark":{"type":"text","text":"80.68","font":"Inter","fontSize":25,"color":"#ffffff","align":"left","baseline":"middle"},"encoding":{"x":{"datum":184.83,"axis":null},"y":{"datum":79.6,"axis":null}}},
  {"mark":{"type":"text","text":"3d 3h","font":"Inter","fontSize":25,"color":"#fbdcdd","align":"left","baseline":"middle"},"encoding":{"x":{"datum":184.83,"axis":null},"y":{"datum":64.3,"axis":null}}},
  {"mark":{"type":"rect","fill":"#DF5F59","cornerRadiusTopRight":4,"cornerRadiusBottomRight":4},"encoding":{"x":{"datum":183.65,"axis":null},"x2":{"datum":192.4},"y":{"datum":138.6,"axis":null},"y2":{"datum":156.7}}},
  {"mark":{"type":"text","text":"48.19\u2009M","font":"Inter","fontSize":25.5,"color":"#ffffff","align":"left","baseline":"middle"},"encoding":{"x":{"datum":184.83,"axis":null},"y":{"datum":147.6,"axis":null}}},
  {"mark":{"type":"point","filled":false,"stroke":"#131722","strokeWidth":2,"opacity":1,"size":841,"shape":"M-1,0 L-0.5,-0.87 L0.5,-0.87 L1,0 L0.5,0.87 L-0.5,0.87 Z"},"encoding":{"x":{"datum":188.24,"axis":null},"y":{"datum":-72.7,"axis":null}}},
  {"mark":{"type":"point","filled":false,"stroke":"#131722","strokeWidth":2,"opacity":1,"size":60,"shape":"circle"},"encoding":{"x":{"datum":188.24,"axis":null},"y":{"datum":-72.7,"axis":null}}}
 ]}
]}
]
}
